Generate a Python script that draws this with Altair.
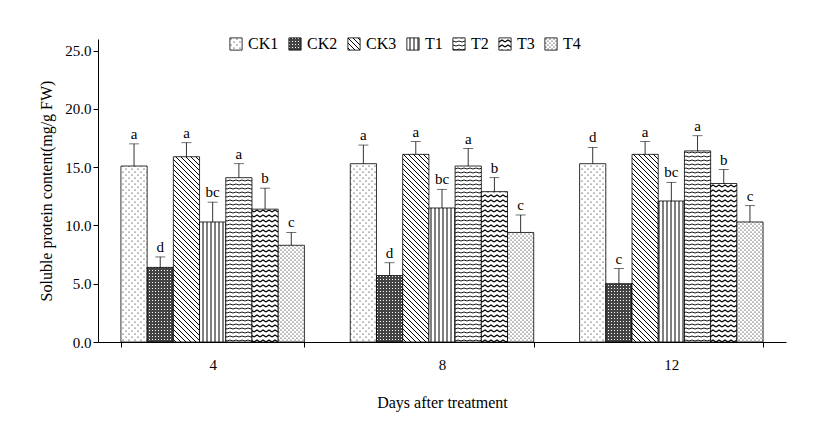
import altair as alt
import pandas as pd

days = ["4", "8", "12"]
treat = ["CK1", "CK2", "CK3", "T1", "T2", "T3", "T4"]
means = {
    "4":  [15.1, 6.4, 15.9, 10.3, 14.1, 11.4, 8.3],
    "8":  [15.3, 5.7, 16.1, 11.5, 15.1, 12.9, 9.4],
    "12": [15.3, 5.0, 16.1, 12.1, 16.4, 13.6, 10.3],
}
errs = {
    "4":  [1.9, 0.9, 1.2, 1.7, 1.2, 1.8, 1.1],
    "8":  [1.6, 1.1, 1.1, 1.6, 1.5, 1.2, 1.5],
    "12": [1.4, 1.3, 1.1, 1.6, 1.3, 1.2, 1.4],
}
letters = {
    "4":  ["a", "d", "a", "bc", "a", "b", "c"],
    "8":  ["a", "d", "a", "bc", "a", "b", "c"],
    "12": ["d", "c", "a", "bc", "a", "b", "c"],
}

rows = []
for d in days:
    for i, t in enumerate(treat):
        rows.append({"day": d, "t": t, "m": means[d][i], "hi": means[d][i] + errs[d][i], "lab": letters[d][i]})
df = pd.DataFrame(rows)

fills = ["url(#pCK1)", "url(#pCK2)", "url(#pCK3)", "url(#pT1)", "url(#pT2)", "url(#pT3)", "url(#pT4)"]
F = "Liberation Serif"

base = alt.Chart(df).encode(
    x=alt.X("day:N", sort=days, title="Days after treatment",
            scale=alt.Scale(paddingInner=0.2, paddingOuter=0.1),
            axis=alt.Axis(labelAngle=0, tickBand="extent", titlePadding=22, labelPadding=10)),
    xOffset=alt.XOffset("t:N", sort=treat),
)
bars = base.mark_bar(stroke="black", strokeWidth=0.8).encode(
    y=alt.Y("m:Q", title="Soluble protein content(mg/g FW)",
            scale=alt.Scale(domain=[0, 25]),
            axis=alt.Axis(values=[0, 5, 10, 15, 20, 25], format=".1f", grid=False, tickSize=5, titlePadding=10)),
    fill=alt.Fill("t:N", sort=treat, scale=alt.Scale(domain=treat, range=fills),
                  legend=alt.Legend(orient="none", legendX=130, legendY=-3, direction="horizontal", title=None,
                                    symbolType="square", symbolSize=150, symbolStrokeColor="black",
                                    symbolStrokeWidth=0.8, labelFontSize=16, columnPadding=8)),
)
errbar = base.mark_rule(color="black", strokeWidth=0.8).encode(y="m:Q", y2="hi:Q")
cap = base.mark_tick(color="black", size=10, thickness=0.8, orient="horizontal").encode(y="hi:Q")
txt = base.mark_text(dy=-10, fontSize=15, font=F).encode(y="hi:Q", text="lab:N")

chart = alt.layer(bars, errbar, cap, txt).properties(
    width=688, height=303, padding={"left": 30, "top": 28, "right": 5, "bottom": 5}
).configure_view(stroke=None).configure_axis(
    domainColor="black", tickColor="black", labelColor="black", titleColor="black",
    labelFont=F, titleFont=F, labelFontSize=15, titleFontSize=16, titleFontWeight="normal"
).configure_legend(labelFont=F)

chart.save("out.html", embed_options={"renderer": "svg", "actions": False})

defs = """<svg width="0" height="0" style="position:absolute"><defs>
<pattern id="pCK1" width="6" height="6" patternUnits="userSpaceOnUse"><rect width="6" height="6" fill="white"/><circle cx="1" cy="1" r="0.6" fill="black"/><circle cx="4" cy="4" r="0.6" fill="black"/></pattern>
<pattern id="pCK2" width="3" height="3" patternUnits="userSpaceOnUse"><rect width="3" height="3" fill="#444"/><rect width="1" height="1" fill="white"/></pattern>
<pattern id="pCK3" width="5" height="5" patternUnits="userSpaceOnUse"><rect width="5" height="5" fill="white"/><path d="M-1,-1 L6,6 M-1,4 L1,6 M4,-1 L6,1" stroke="black" stroke-width="1"/></pattern>
<pattern id="pT1" width="4" height="4" patternUnits="userSpaceOnUse"><rect width="4" height="4" fill="white"/><path d="M1,0 L1,4" stroke="black" stroke-width="1"/></pattern>
<pattern id="pT2" width="6" height="4" patternUnits="userSpaceOnUse"><rect width="6" height="4" fill="white"/><path d="M0,1 L3,2 L6,1" stroke="black" stroke-width="0.9" fill="none"/></pattern>
<pattern id="pT3" width="6" height="5" patternUnits="userSpaceOnUse"><rect width="6" height="5" fill="white"/><path d="M0,3 L3,1 L6,3" stroke="black" stroke-width="1.2" fill="none"/></pattern>
<pattern id="pT4" width="4" height="4" patternUnits="userSpaceOnUse"><rect width="4" height="4" fill="white"/><circle cx="1" cy="1" r="0.6" fill="black"/><circle cx="3" cy="3" r="0.6" fill="black"/></pattern>
</defs></svg>"""
with open("out.html") as f:
    html = f.read()
html = html.replace("<body>", "<body>" + defs, 1)
with open("out.html", "w") as f:
    f.write(html)
